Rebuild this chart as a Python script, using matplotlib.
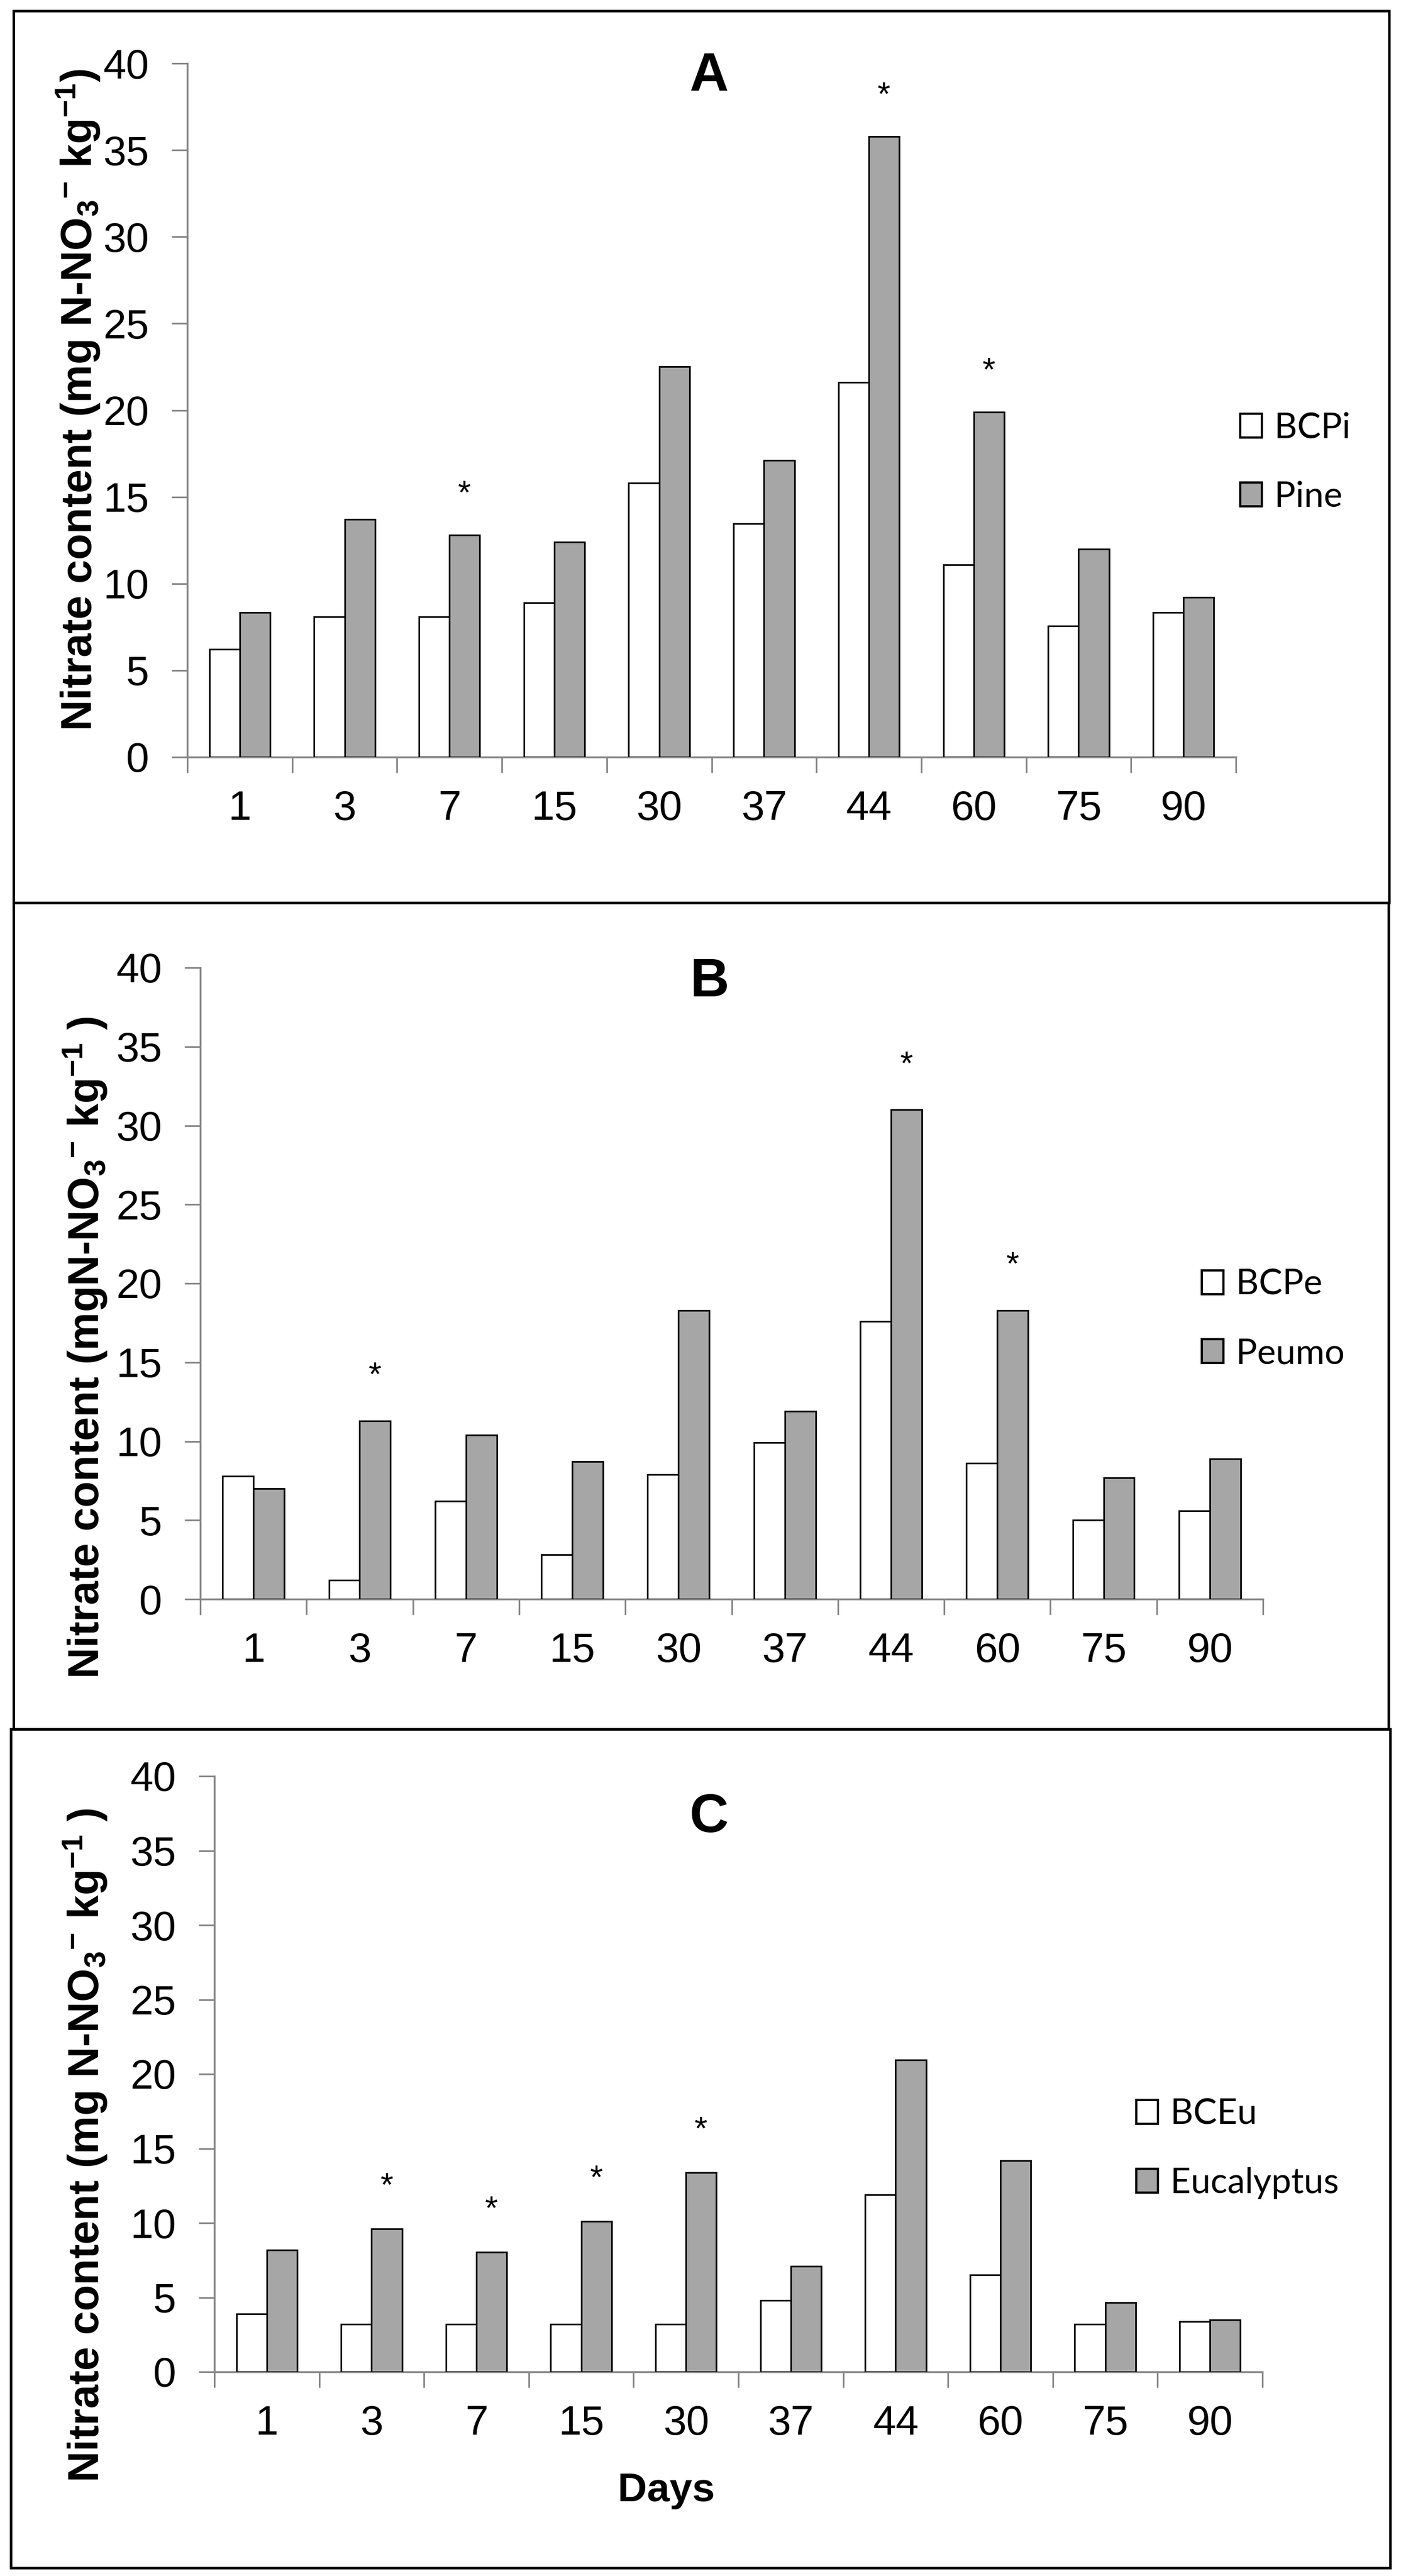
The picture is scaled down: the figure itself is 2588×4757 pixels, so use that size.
import matplotlib
matplotlib.use('Agg')
import matplotlib.pyplot as plt
from matplotlib.patches import Rectangle

# values
days = ['1', '3', '7', '15', '30', '37', '44', '60', '75', '90']

bcpi = [6.2, 8.1, 8.1, 8.9, 15.8, 13.45, 21.6, 11.1, 7.55, 8.35]
pine = [8.35, 13.7, 12.8, 12.4, 22.5, 17.1, 35.8, 19.9, 12.0, 9.2]
pine_sig = ['7', '44', '60']

bcpe = [7.8, 1.2, 6.2, 2.8, 7.9, 9.9, 17.6, 8.6, 5.0, 5.6]
peumo = [7.0, 11.3, 10.4, 8.7, 18.3, 11.9, 31.0, 18.3, 7.7, 8.9]
peumo_sig = ['3', '44', '60']

bceu = [3.9, 3.2, 3.2, 3.2, 3.2, 4.8, 11.9, 6.5, 3.2, 3.4]
euca = [8.2, 9.6, 8.05, 10.1, 13.4, 7.1, 20.95, 14.2, 4.65, 3.5]
euca_sig = ['3', '7', '15', '30']

W, H = 2588, 4757
fig = plt.figure(figsize=(W / 100, H / 100), dpi=100)
fig.patch.set_facecolor('white')

TICK_FONT = 'Liberation Sans'
LEG_FONT = 'Lato'
GREY = '#a6a6a6'
AXIS = '#868686'

plt.rcParams['mathtext.fontset'] = 'custom'
plt.rcParams['mathtext.rm'] = 'Liberation Sans:bold'
plt.rcParams['mathtext.default'] = 'rm'


def fx(px):
    return px / W


def fy(py):
    return 1 - py / H


def panel(box, axbox, title, title_y, ctrl, trt, names, sig, ylab, ylab_pos,
          leg_pos, star_off=2.4, xlabel=None):
    # outer frame of the panel
    l, t, r, b = box
    fig.add_artist(Rectangle((fx(l), fy(b)), (r - l) / W, (b - t) / H,
                             transform=fig.transFigure, fill=False,
                             lw=3.3, ec='black'))
    al, at, ar, ab = axbox
    ax = fig.add_axes([fx(al), fy(ab), (ar - al) / W, (ab - at) / H])
    x = list(range(len(days)))
    w = 0.29
    b1 = ax.bar([i - w / 2 for i in x], ctrl, width=w, color='white',
                edgecolor='black', lw=2.2, label=names[0], zorder=3)
    b2 = ax.bar([i + w / 2 for i in x], trt, width=w, color=GREY,
                edgecolor='black', lw=2.2, label=names[1], zorder=3)
    for d in sig:
        i = days.index(d)
        ax.text(i + w / 2, trt[i] + star_off, '*', ha='center', va='center',
                fontsize=44, family=TICK_FONT)
    ax.set_xlim(-0.5, len(days) - 0.5)
    ax.set_ylim(0, 40)
    ax.set_yticks(range(0, 41, 5))
    ax.set_xticks([i - 0.5 for i in range(len(days) + 1)])
    ax.set_xticklabels([])
    ax.set_xticks(x, minor=True)
    ax.set_xticklabels(days, minor=True)
    ax.tick_params(axis='x', which='major', direction='out', length=21,
                   width=2.2, color=AXIS)
    ax.tick_params(axis='x', which='minor', length=0, pad=44, labelsize=55)
    ax.tick_params(axis='y', direction='out', length=21, width=2.2,
                   color=AXIS, labelsize=55, pad=30)
    for lab in ax.get_xticklabels(minor=True) + ax.get_yticklabels():
        lab.set_family(TICK_FONT)
    for s in ['top', 'right']:
        ax.spines[s].set_visible(False)
    for s in ['left', 'bottom']:
        ax.spines[s].set_color(AXIS)
        ax.spines[s].set_linewidth(2.5)
    fig.text(fx(1310), fy(title_y), title, ha='center', va='center',
             fontsize=72, fontweight='bold', family=TICK_FONT)
    fig.text(fx(ylab_pos[0]), fy(ylab_pos[1]), ylab, rotation=90,
             ha='center', va='center', fontsize=57, fontweight='bold',
             family=TICK_FONT)
    leg = ax.legend(handles=[b1, b2], loc='center left',
                    bbox_to_anchor=(fx(leg_pos[0]), fy(leg_pos[1])),
                    bbox_transform=fig.transFigure, frameon=False,
                    prop={'family': LEG_FONT, 'size': 47},
                    handlelength=0.62, handleheight=0.66, handletextpad=0.35,
                    labelspacing=1.05, borderpad=0, borderaxespad=0)
    for p in leg.get_patches():
        p.set_linewidth(3)
    if xlabel:
        fig.text(fx(1231), fy(4600), xlabel, ha='center', va='center',
                 fontsize=54, fontweight='bold', family=TICK_FONT)
    return ax


lab_a = r'Nitrate content (mg N-NO$_3$$^{-}$ kg$^{-1}$)'
lab_b = r'Nitrate content (mgN-NO$_3$$^{-}$ kg$^{-1}$ )'
lab_c = r'Nitrate content (mg N-NO$_3$$^{-}$ kg$^{-1}$ )'

panel((25, 20, 2566, 1667), (346, 117, 2283, 1398), 'A', 143, bcpi, pine,
      ['BCPi', 'Pine'], pine_sig, lab_a, (145, 738), (2291, 854),
      star_off=2.3)
panel((25, 1667, 2565, 3193), (370, 1787, 2333, 2953), 'B', 1814, bcpe, peumo,
      ['BCPe', 'Peumo'], peumo_sig, lab_b, (158, 2488), (2220, 2436),
      star_off=2.8)
panel((20, 3193, 2568, 4742), (396, 3280, 2332, 4380), 'C', 3357, bceu, euca,
      ['BCEu', 'Eucalyptus'], euca_sig, lab_c, (158, 3961), (2099, 3968),
      star_off=2.8, xlabel='Days')

fig.savefig('out.png', dpi=100)
